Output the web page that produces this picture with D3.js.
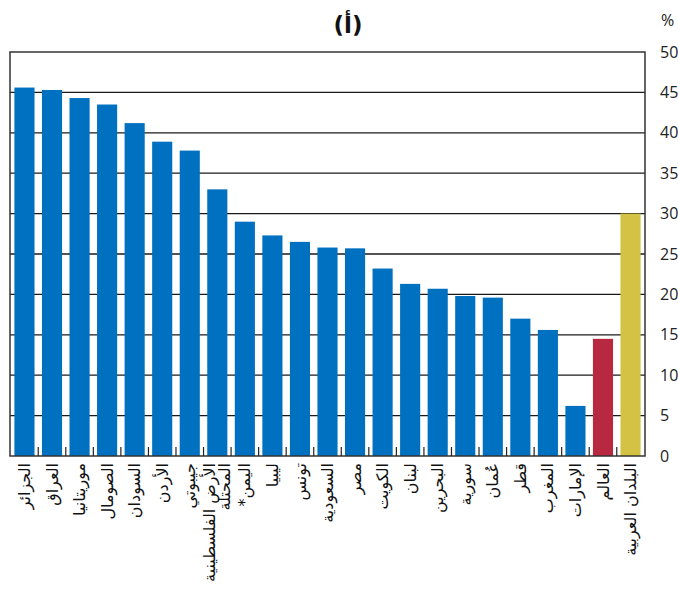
<!DOCTYPE html>
<html>
<head>
<meta charset="utf-8">
<script src="https://cdn.jsdelivr.net/npm/d3@7"></script>
<style>
  body { margin: 0; background: #fff; }
  svg { display: block; }
</style>
</head>
<body>
<div id="chart"></div>
<script>
// data
const countries = [
  "الجزائر", "العراق", "موريتانيا", "الصومال", "السودان", "الأردن", "جيبوتي",
  "الأرض الفلسطينية|المحتلة", "اليمن*\u200F", "ليبيا", "تونس", "السعودية", "مصر",
  "الكويت", "لبنان", "البحرين", "سورية", "عُمان", "قطر", "المغرب", "الإمارات",
  "العالم", "البلدان العربية"
];
const values = [
  45.6, 45.3, 44.3, 43.5, 41.2, 38.9, 37.8,
  33.0, 29.0, 27.3, 26.5, 25.8, 25.7,
  23.2, 21.3, 20.7, 19.8, 19.6, 17.0, 15.6, 6.2,
  14.5, 30.0
];
const barKind = [
  "c", "c", "c", "c", "c", "c", "c", "c", "c", "c", "c", "c", "c",
  "c", "c", "c", "c", "c", "c", "c", "c", "world", "arab"
];
const yTicks = [0, 5, 10, 15, 20, 25, 30, 35, 40, 45, 50];

const colors = { c: "#0070c0", world: "#b82840", arab: "#d4c244" };

const width = 678, height = 590;
const plotLeft = 10, plotRight = 645, plotTop = 52, plotBottom = 456;

const svg = d3.select("#chart")
  .append("svg")
    .attr("width", width)
    .attr("height", height);

const x = d3.scaleBand()
  .domain(countries)
  .range([plotLeft, plotRight])
  .paddingInner(0.27)
  .paddingOuter(0.16);

const y = d3.scaleLinear()
  .domain([0, 50])
  .range([plotBottom, plotTop]);

// gridlines
svg.append("g")
  .selectAll("line")
  .data(yTicks.slice(1, -1))
  .join("line")
    .attr("x1", plotLeft)
    .attr("x2", plotRight)
    .attr("y1", d => y(d))
    .attr("y2", d => y(d))
    .attr("stroke", "#1a1a1a")
    .attr("stroke-width", 1.3);

// bars
svg.append("g")
  .selectAll("rect")
  .data(countries)
  .join("rect")
    .attr("x", d => x(d))
    .attr("y", (d, i) => y(values[i]))
    .attr("width", x.bandwidth())
    .attr("height", (d, i) => y(0) - y(values[i]))
    .attr("fill", (d, i) => colors[barKind[i]]);

// frame of the plot area
svg.append("rect")
  .attr("x", plotLeft)
  .attr("y", plotTop)
  .attr("width", plotRight - plotLeft)
  .attr("height", plotBottom - plotTop)
  .attr("fill", "none")
  .attr("stroke", "#333")
  .attr("stroke-width", 1.5);

// small ticks between the categories
const step = x.step();
svg.append("g")
  .selectAll("line")
  .data(countries.slice(1))
  .join("line")
    .attr("x1", d => x(d) - step * x.paddingInner() / 2)
    .attr("x2", d => x(d) - step * x.paddingInner() / 2)
    .attr("y1", plotBottom)
    .attr("y2", plotBottom - 9)
    .attr("stroke", "#222")
    .attr("stroke-width", 1.2);

// right axis labels
svg.append("g")
  .selectAll("text")
  .data(yTicks)
  .join("text")
    .attr("x", 660)
    .attr("y", d => y(d))
    .attr("dy", "0.35em")
    .style("font-family", "'Open Sans', sans-serif")
    .style("font-size", "16px")
    .attr("fill", "#222")
    .text(d => d);

svg.append("text")
  .attr("x", 661)
  .attr("y", 20)
  .attr("dy", "0.35em")
  .style("font-family", "'Open Sans', sans-serif")
  .style("font-size", "16px")
  .attr("fill", "#222")
  .text("%");

// title
svg.append("text")
  .attr("x", 348)
  .attr("y", 33)
  .attr("text-anchor", "middle")
  .style("font-family", "'DejaVu Sans', sans-serif")
  .style("font-size", "23px")
  .style("font-weight", "bold")
  .attr("fill", "#111")
  .text("(أ)");

// vertical category labels
const labels = svg.append("g")
  .selectAll("text")
  .data(countries)
  .join("text")
    .attr("transform", d => {
      const n = d.split("|").length;
      const cx = x(d) + x.bandwidth() / 2 - (n - 1) * 7.5;
      return `translate(${cx},463) rotate(-90)`;
    })
    .attr("text-anchor", "end")
    .style("font-family", "'DejaVu Sans', sans-serif")
    .style("font-size", "16px")
    .attr("fill", "#111");

labels.selectAll("tspan")
  .data(d => d.split("|"))
  .join("tspan")
    .attr("x", 0)
    .attr("y", (d, i) => i * 15)
    .attr("dy", "0.35em")
    .text(d => d);
</script>
</body>
</html>
